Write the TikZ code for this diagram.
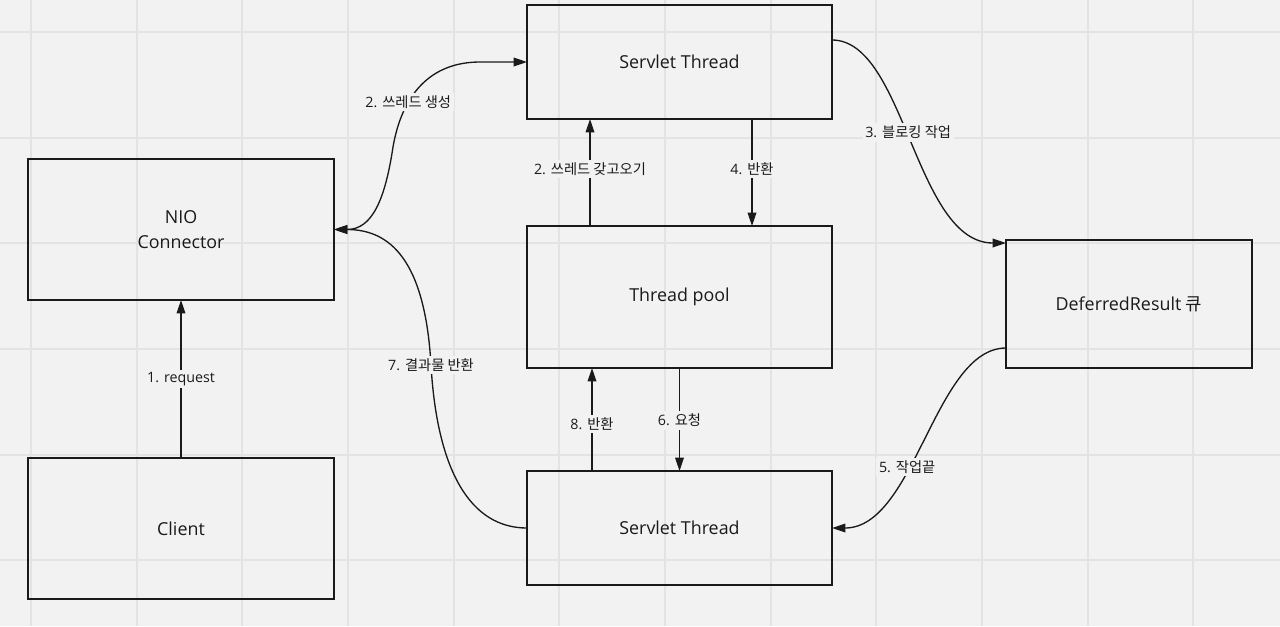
\documentclass[tikz,border=0pt]{standalone}
\usepackage{fontspec}
\setmainfont{Open Sans}
\newfontfamily\kr{Noto Sans CJK KR}
\usetikzlibrary{arrows.meta,calc}
\definecolor{bg}{HTML}{F2F2F2}
\definecolor{gridc}{HTML}{E3E3E3}
\definecolor{ink}{HTML}{1A1A1A}
\begin{document}
\begin{tikzpicture}[x=0.75pt,y=-0.75pt,
  >={Triangle[length=10pt,width=6.5pt]},
  box/.style={draw=ink,line width=1.6pt,outer sep=0pt,inner sep=0pt,text=ink,
    font=\fontsize{13.4}{18.5}\selectfont,align=center},
  conn/.style={draw=ink,line width=1pt,->},
  lbl/.style={fill=bg,text=ink,inner sep=2pt,font=\fontsize{10.7}{12}\selectfont}]
\fill[bg] (0,0) rectangle (1280,626);
\useasboundingbox (0,0) rectangle (1280,626);
\foreach \i in {0,...,11} \draw[gridc,line width=1.5pt] ({31+105.67*\i},0) -- ({31+105.67*\i},626);
\foreach \j in {0,...,5} \draw[gridc,line width=1.5pt] (0,{32+105.67*\j}) -- (1280,{32+105.67*\j});

\node[box,minimum width=229.5pt,minimum height=105.75pt] (nio) at (181,229.5) {NIO\\Connector};
\node[box,minimum width=229.5pt,minimum height=105.75pt] (client) at (181,528.5) {Client};
\node[box,minimum width=228.75pt,minimum height=85.5pt] (st1) at (679.5,62) {Servlet Thread};
\node[box,minimum width=228.75pt,minimum height=106.5pt] (pool) at (679.5,297) {Thread pool};
\node[box,minimum width=228.75pt,minimum height=85.5pt] (st2) at (679.5,528) {Servlet Thread};
\node[box,minimum width=184.5pt,minimum height=96pt] (def) at (1129,304) {DeferredResult {\kr 큐}};

\draw[conn] (client.north) -- node[lbl]{1. request} (nio.south);
\draw[conn,<->] (nio.east) .. controls (372,229.5) and (385,200) .. (393,147)
  .. controls (402,95) and (430,62) .. (480,62) node[lbl,pos=0.33]{2. {\kr 쓰레드 생성}} -- (st1.west);
\draw[conn] ($(st1.north east)+(0,35)$) .. controls (905,40) and (915,243) .. ($(def.north west)+(0,3)$)
  node[lbl,pos=0.47]{3. {\kr 블로킹 작업}};
\draw[conn] ($(def.south west)+(0,-20)$) .. controls (935,348) and (915,528) .. (st2.east)
  node[lbl,pos=0.61]{5. {\kr 작업끝}};
\draw[conn] (st2.west) .. controls (470,528) and (437,470) .. (431,365) node[lbl]{7. {\kr 결과물 반환}}
  .. controls (425,260) and (390,229.5) .. (nio.east);
\draw[conn] ($(pool.north west)+(63,0)$) -- node[lbl,pos=0.53]{2. {\kr 쓰레드 갖고오기}} ($(st1.south west)+(63,0)$);
\draw[conn] ($(st1.south west)+(225,0)$) -- node[lbl,pos=0.47]{4. {\kr 반환}} ($(pool.north west)+(225,0)$);
\draw[conn] (pool.south) -- node[lbl,pos=0.51]{6. {\kr 요청}} (st2.north);
\draw[conn] ($(st2.north west)+(65,0)$) -- node[lbl,pos=0.46]{8. {\kr 반환}} ($(pool.south west)+(65,0)$);
\end{tikzpicture}
\end{document}
